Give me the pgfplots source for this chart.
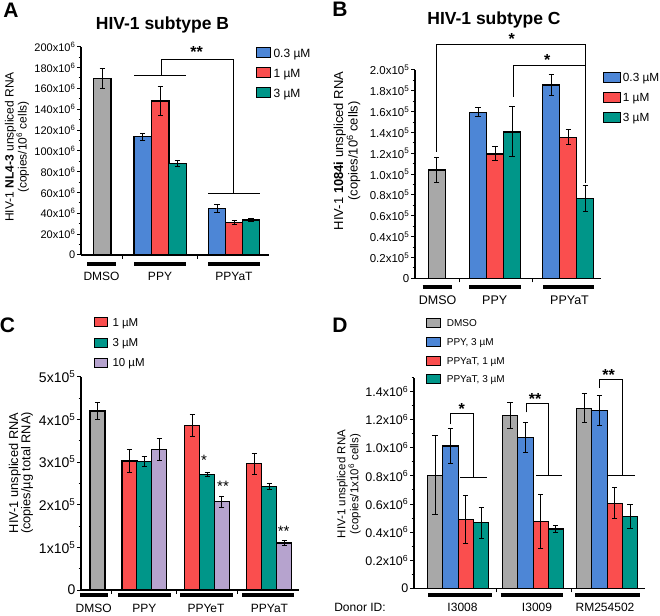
\documentclass[border=0pt]{standalone}
\usepackage{pgfplots}
\pgfplotsset{compat=1.18}
\usepackage{fontspec}
\setmainfont{Liberation Sans}
\definecolor{cblue}{RGB}{77,134,214}
\definecolor{cred}{RGB}{250,78,78}
\definecolor{cteal}{RGB}{0,150,137}
\definecolor{cgray}{RGB}{168,168,168}
\definecolor{cpurp}{RGB}{182,163,206}
\newcommand{\fs}[1]{\fontsize{#1}{#1}\selectfont}
\newcommand{\ee}[1]{x10\textsuperscript{#1}}
\pgfplotsset{
 panel/.style={scale only axis, anchor=south west, at={(0,0)}, axis lines=left,
   axis line style={-, line width=1.1pt}, x axis line style={-}, y axis line style={-},
   tick align=outside, major tick length=4pt, minor tick length=2.5pt,
   tick style={black, line width=1pt}, xticklabels={}, clip=false,
   yticklabel style={inner sep=1.5pt}},
 bw/.style={ybar, bar shift=0pt, bar width=#1, /tikz/draw=black, /tikz/line width=1.2pt},
 eb/.style={error bars/.cd, y dir=both, y explicit,
   error bar style={black, line width=1pt},
   error mark options={rotate=90, black, line width=1pt, mark size=2.6pt}},
 brk/.style={black, line width=0.9pt, forget plot, mark=none},
}
\begin{document}
\begin{tikzpicture}[x=1pt,y=1pt]
% ================= Panel A =================
\begin{scope}[shift={(81,360)}]
\begin{axis}[panel, width=188pt, height=208.3pt,
  xmin=81, xmax=269, ymin=0, ymax=200, xtick={122.5,197},
  ytick={0,20,...,200}, minor y tick num=1,
  yticklabels={0,20\ee{6},40\ee{6},60\ee{6},80\ee{6},100\ee{6},120\ee{6},140\ee{6},160\ee{6},180\ee{6},200\ee{6}},
  yticklabel style={font=\fs{11}}]
\addplot[fill=cgray, bw=17.5, eb] coordinates {(102.2,169.6) +- (0,9.8)};
\addplot[fill=cblue, bw=17.5, eb] coordinates {(142.8,113.6) +- (0,3.2) (217,44.8) +- (0,3.8)};
\addplot[fill=cred, bw=17.5, eb] coordinates {(160.3,147.8) +- (0,13.8) (234.2,31.4) +- (0,2)};
\addplot[fill=cteal, bw=17.5, eb] coordinates {(177.5,87.7) +- (0,3) (251,33.6) +- (0,1.3)};
\addplot[brk] coordinates {(134,172.8) (186,172.8)};
\addplot[brk] coordinates {(161,172.8) (161,188.2) (233.3,188.2) (233.3,59.2)};
\addplot[brk] coordinates {(208.3,59.2) (260,59.2)};
\coordinate (Ao) at (axis cs:81,0);
\end{axis}
\end{scope}
\begin{scope}[shift={(Ao)}, shift={(-81,-360)}]
\node[font=\bfseries\fs{21}, anchor=base] at (11,597) {A};
\node[font=\bfseries\fs{17.5}, anchor=base] at (162.5,585.7) {HIV-1 subtype B};
\node[font=\fontsize{12}{12.8}\selectfont, rotate=90, align=center] at (17,468) {HIV-1 \textbf{NL4-3} unspliced RNA\\(copies/10\textsuperscript{6} cells)};
\node[font=\bfseries\fs{16}, anchor=base] at (196.7,557.4) {**};
\foreach \a/\b in {87.3/115.7,134/186,208.3/260} \draw[line width=4pt] (\a,351) -- (\b,351);
\foreach \x/\t in {101.5/DMSO,160/PPY,234/PPYaT} \node[font=\fs{12}, anchor=base] at (\x,334.7) {\t};
\foreach \y/\c/\t in {562/cblue/0.3 µM,542/cred/1 µM,522/cteal/3 µM}{
  \draw[fill=\c, line width=1pt] (256,\y-5) rectangle (270.7,\y+5);
  \node[font=\fs{12}, anchor=base west, inner sep=0pt] at (273.3,\y-4.3) {\t};}
\end{scope}
% ================= Panel B =================
\begin{scope}[shift={(415,336.7)}]
\begin{axis}[panel, width=186pt, height=208.3pt,
  xmin=415, xmax=601, ymin=0, ymax=2, xtick={459,532.7},
  ytick={0,0.2,0.4,0.6,0.8,1.0,1.2,1.4,1.6,1.8,2.0}, minor y tick num=1,
  yticklabels={0,0.2\ee{5},0.4\ee{5},0.6\ee{5},0.8\ee{5},1.0\ee{5},1.2\ee{5},1.4\ee{5},1.6\ee{5},1.8\ee{5},2.0\ee{5}},
  yticklabel style={font=\fs{11.5}}]
\addplot[fill=cgray, bw=17, eb] coordinates {(436.7,1.04) +- (0,0.12)};
\addplot[fill=cblue, bw=17, eb] coordinates {(478,1.594) +- (0,0.043) (551.3,1.856) +- (0,0.10)};
\addplot[fill=cred, bw=17, eb] coordinates {(495,1.194) +- (0,0.067) (568.3,1.354) +- (0,0.072)};
\addplot[fill=cteal, bw=17, eb] coordinates {(512,1.405) +- (0,0.24) (585.3,0.768) +- (0,0.125)};
\addplot[brk] coordinates {(436.7,1.216) (436.7,2.25) (585.7,2.25) (585.7,0.912)};
\addplot[brk] coordinates {(513.7,1.744) (513.7,2.048) (585.7,2.048)};
\coordinate (Bo) at (axis cs:415,0);
\end{axis}
\end{scope}
\begin{scope}[shift={(Bo)}, shift={(-415,-336.7)}]
\node[font=\bfseries\fs{21}, anchor=base] at (340,598) {B};
\node[font=\bfseries\fs{17.5}, anchor=base] at (494,590) {HIV-1 subtype C};
\node[font=\fontsize{13}{12.8}\selectfont, rotate=90, align=center] at (347,464) {HIV-1 \textbf{1084i} unspliced RNA\\(copies/10\textsuperscript{6} cells)};
\node[font=\bfseries\fs{16}, anchor=base] at (511.7,570.7) {*};
\node[font=\bfseries\fs{16}, anchor=base] at (547.3,549) {*};
\foreach \a/\b in {422.7/451.7,469/520.7,543/594} \draw[line width=4pt] (\a,328.3) -- (\b,328.3);
\foreach \x/\t in {437.7/DMSO,494.7/PPY,569.5/PPYaT} \node[font=\fs{12.5}, anchor=base] at (\x,310.5) {\t};
\foreach \y/\c/\t in {537.3/cblue/0.3 µM,517.7/cred/1 µM,497.7/cteal/3 µM}{
  \draw[fill=\c, line width=1pt] (603.3,\y-5) rectangle (620,\y+5);
  \node[font=\fs{11.8}, anchor=base west, inner sep=0pt] at (622.7,\y-4.2) {\t};}
\end{scope}
% ================= Panel C =================
\begin{scope}[shift={(81,25)}]
\begin{axis}[panel, width=218pt, height=213.3pt,
  xmin=81, xmax=299, ymin=0, ymax=5, xtick={111.7,176,237.7},
  ytick={0,1,2,3,4,5}, minor y tick num=1,
  yticklabels={0,1\ee{5},2\ee{5},3\ee{5},4\ee{5},5\ee{5}},
  yticklabel style={font=\fs{14}}]
\addplot[fill=cgray, bw=15, eb] coordinates {(97.5,4.195) +- (0,0.19)};
\addplot[fill=cred, bw=15, eb] coordinates {(129.5,3.023) +- (0,0.26) (192.2,3.86) +- (0,0.26) (254.2,2.96) +- (0,0.25)};
\addplot[fill=cteal, bw=15, eb] coordinates {(144.2,3.008) +- (0,0.11) (207.2,2.711) +- (0,0.04) (269.2,2.43) +- (0,0.07)};
\addplot[fill=cpurp, bw=15, eb] coordinates {(159.2,3.297) +- (0,0.26) (221.8,2.07) +- (0,0.13) (284.2,1.10) +- (0,0.06)};
\coordinate (Co) at (axis cs:81,0);
\end{axis}
\end{scope}
\begin{scope}[shift={(Co)}, shift={(-81,-25)}]
\node[font=\bfseries\fs{21}, anchor=base] at (7.5,282) {C};
\node[font=\fontsize{12.8}{12.3}\selectfont, rotate=90, align=center] at (21,142) {HIV-1 unspliced RNA\\(copies/µg total RNA)};
\node[font=\fs{15}, anchor=base] at (204,149.6) {*};
\node[font=\fs{15}, anchor=base] at (223,123.6) {**};
\node[font=\fs{15}, anchor=base] at (283.7,78) {**};
\foreach \a/\b in {80/108,118.3/170.7,180/232.7,242.3/294.3} \draw[line width=4pt] (\a,20) -- (\b,20);
\foreach \x/\t in {93.7/DMSO,144.3/PPY,206/PPYeT,269.5/PPYaT} \node[font=\fs{12}, anchor=base] at (\x,2.5) {\t};
\foreach \y/\c/\t in {292.7/cred/1 µM,272.3/cteal/3 µM,252.3/cpurp/10 µM}{
  \draw[fill=\c, line width=1pt] (94,\y-4.5) rectangle (107.3,\y+4.5);
  \node[font=\fs{11.5}, anchor=base west, inner sep=0pt] at (112.3,\y-4.1) {\t};}
\end{scope}
% ================= Panel D =================
\begin{scope}[shift={(414,26.7)}]
\begin{axis}[panel, width=231pt, height=210.75pt,
  xmin=414, xmax=645, ymin=0, ymax=1.5, xtick={496,571},
  ytick={0,0.2,0.4,0.6,0.8,1.0,1.2,1.4},
  minor ytick={0.1,0.3,0.5,0.7,0.9,1.1,1.3,1.5},
  yticklabels={0,0.2\ee{6},0.4\ee{6},0.6\ee{6},0.8\ee{6},1.0\ee{6},1.2\ee{6},1.4\ee{6}},
  yticklabel style={font=\fs{12.5}}]
\addplot[fill=cgray, bw=15.3, eb] coordinates {(435,0.804) +- (0,0.28) (510,1.229) +- (0,0.09) (584.2,1.281) +- (0,0.104)};
\addplot[fill=cblue, bw=15.3, eb] coordinates {(450.5,1.013) +- (0,0.127) (525.5,1.075) +- (0,0.108) (599.5,1.265) +- (0,0.105)};
\addplot[fill=cred, bw=15.3, eb] coordinates {(465.8,0.491) +- (0,0.17) (540.8,0.475) +- (0,0.19) (614.8,0.605) +- (0,0.11)};
\addplot[fill=cteal, bw=15.3, eb] coordinates {(481.2,0.467) +- (0,0.11) (555.8,0.422) +- (0,0.022) (630,0.51) +- (0,0.085)};
\addplot[brk] coordinates {(450.7,1.169) (450.7,1.246) (473.3,1.246) (473.3,0.787)};
\addplot[brk] coordinates {(460,0.787) (486.7,0.787)};
\addplot[brk] coordinates {(526,1.253) (526,1.317) (548.3,1.317) (548.3,0.80)};
\addplot[brk] coordinates {(536,0.80) (561.7,0.80)};
\addplot[brk] coordinates {(599.3,1.424) (599.3,1.49) (622.3,1.49) (622.3,0.80)};
\addplot[brk] coordinates {(608.3,0.80) (635,0.80)};
\coordinate (Do) at (axis cs:414,0);
\end{axis}
\end{scope}
\begin{scope}[shift={(Do)}, shift={(-414,-26.7)}]
\node[font=\bfseries\fs{21}, anchor=base] at (340,282) {D};
\node[font=\fontsize{11.5}{13}\selectfont, rotate=90, align=center] at (349,131) {HIV-1 unspliced RNA\\(copies/1x10\textsuperscript{6} cells)};
\node[font=\bfseries\fs{16}, anchor=base] at (461.7,200.7) {*};
\node[font=\bfseries\fs{16}, anchor=base] at (535,210) {**};
\node[font=\bfseries\fs{16}, anchor=base] at (608.7,234) {**};
\foreach \a/\b in {428.3/491.7,500.7/563.3,575/640} \draw[line width=4pt] (\a,20) -- (\b,20);
\foreach \x/\t in {360/Donor ID:,462.5/I3008,537/I3009,605/RM254502} \node[font=\fs{12}, anchor=base] at (\x,4) {\t};
\foreach \y/\c/\t in {292.3/cgray/DMSO,272.7/cblue/{PPY, 3 µM},254/cred/{PPYaT, 1 µM},235.7/cteal/{PPYaT, 3 µM}}{
  \draw[fill=\c, line width=1pt] (426.7,\y-4.5) rectangle (440,\y+4.5);
  \node[font=\fs{10}, anchor=base west, inner sep=0pt] at (446.7,\y-3.6) {\t};}
\end{scope}
\pgfresetboundingbox
\path[use as bounding box] (0,0) rectangle (660,615);
\end{tikzpicture}
\end{document}
